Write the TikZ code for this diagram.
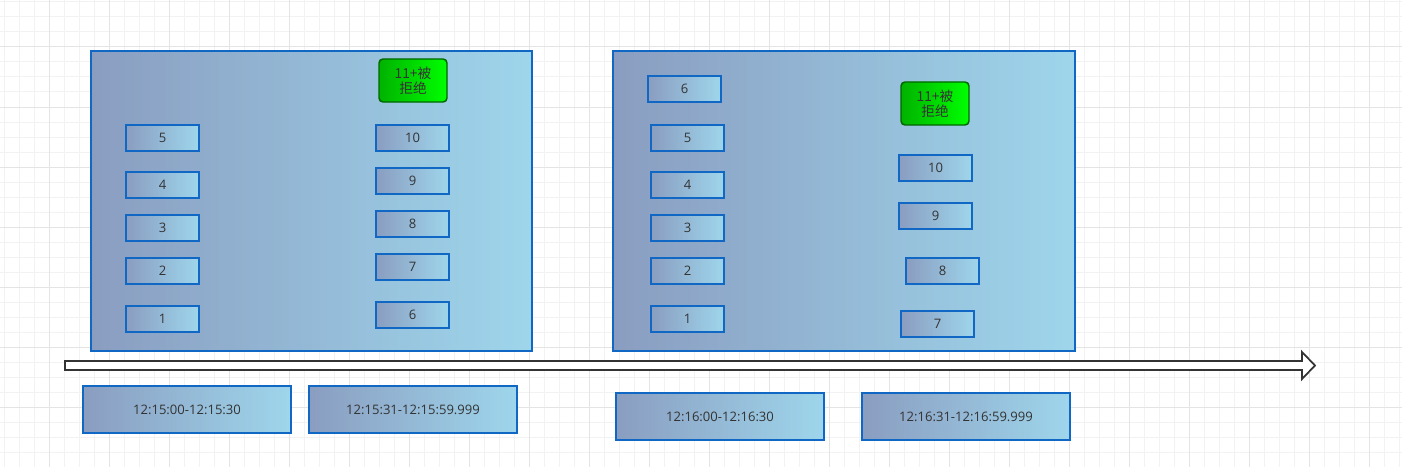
\documentclass[tikz,border=0pt]{standalone}
\usepackage{fontspec}
\setmainfont{Open Sans}
\newfontfamily\cjk{Noto Sans CJK SC}
\definecolor{frameblue}{RGB}{16,104,196}
\definecolor{leftgrey}{RGB}{138,157,192}
\definecolor{rightblue}{RGB}{158,214,236}
\definecolor{darkgreen}{RGB}{0,102,0}
\definecolor{textgrey}{RGB}{51,51,51}
\definecolor{gridminor}{RGB}{242,242,242}
\definecolor{gridmajor}{RGB}{228,228,228}
\begin{document}
\begin{tikzpicture}[x=0.75pt, y=-0.75pt,
  window/.style={draw=frameblue, line width=1.4pt, left color=leftgrey, right color=rightblue, minimum width=#1, minimum height=225pt},
  req node/.style={draw=frameblue, line width=1.3pt, left color=leftgrey, right color=rightblue, minimum width=54.75pt, minimum height=19.5pt, inner sep=0pt, text=textgrey, font=\fontsize{9.8}{12}\selectfont},
  reject node/.style={draw=darkgreen, line width=1.1pt, rounded corners=3pt, left color=green!70!black, right color=green, minimum width=51pt, minimum height=32.25pt, inner sep=0pt, align=center, text=textgrey, font=\fontsize{10.3}{11.3}\selectfont\cjk},
  time node/.style={draw=frameblue, line width=1.3pt, left color=leftgrey, right color=rightblue, minimum width=156pt, minimum height=35.25pt, inner sep=0pt, text=textgrey, font=\fontsize{9.8}{12}\selectfont}]
  \useasboundingbox (0,0) rectangle (1402,467);
  \fill[white] (0,0) rectangle (1402,467);
  % grid
  \foreach \gx in {4,19,...,1400} \draw[gridminor, line width=0.75pt] (\gx,0) -- (\gx,467);
  \foreach \gy in {2,17,...,466} \draw[gridminor, line width=0.75pt] (0,\gy) -- (1402,\gy);
  \foreach \gx in {49,109,...,1400} \draw[gridmajor, line width=0.75pt] (\gx,0) -- (\gx,467);
  \foreach \gy in {47,107,...,466} \draw[gridmajor, line width=0.75pt] (0,\gy) -- (1402,\gy);

  % first window
  \node[window=330.75pt] (w1) at (311.5,201) {};
  \node[reject node] (r1) at (413,80.5) {11+被\\拒绝};
  \node[req node] (a5) at (162.5,138) {5};
  \node[req node] (a4) at (162.5,185) {4};
  \node[req node] (a3) at (162.5,228) {3};
  \node[req node] (a2) at (162.5,271) {2};
  \node[req node] (a1) at (162.5,319) {1};
  \node[req node] (a10) at (412.5,138) {10};
  \node[req node] (a9) at (412.5,181) {9};
  \node[req node] (a8) at (412.5,224) {8};
  \node[req node] (a7) at (412.5,267) {7};
  \node[req node] (a6) at (412.5,315) {6};

  % second window
  \node[window=346.5pt] (w2) at (844,201) {};
  \node[reject node] (r2) at (935,103.5) {11+被\\拒绝};
  \node[req node] (b6) at (684.5,89) {6};
  \node[req node] (b5) at (687.5,138) {5};
  \node[req node] (b4) at (687.5,185) {4};
  \node[req node] (b3) at (687.5,228) {3};
  \node[req node] (b2) at (687.5,271) {2};
  \node[req node] (b1) at (687.5,319) {1};
  \node[req node] (b10) at (935.5,168) {10};
  \node[req node] (b9) at (935.5,216) {9};
  \node[req node] (b8) at (942.5,271) {8};
  \node[req node] (b7) at (937.5,324) {7};

  % time axis
  \draw[textgrey, line width=1.3pt, fill=white, line join=miter]
    (65,361) -- (1302,361) -- (1302,352) -- (1315,365.5) -- (1302,379) -- (1302,370) -- (65,370) -- cycle;

  % time slots
  \node[time node] (t1) at (187,409.5) {12:15:00-12:15:30};
  \node[time node] (t2) at (413,409.5) {12:15:31-12:15:59.999};
  \node[time node] (t3) at (720,416.5) {12:16:00-12:16:30};
  \node[time node] (t4) at (966,416.5) {12:16:31-12:16:59.999};
\end{tikzpicture}
\end{document}
